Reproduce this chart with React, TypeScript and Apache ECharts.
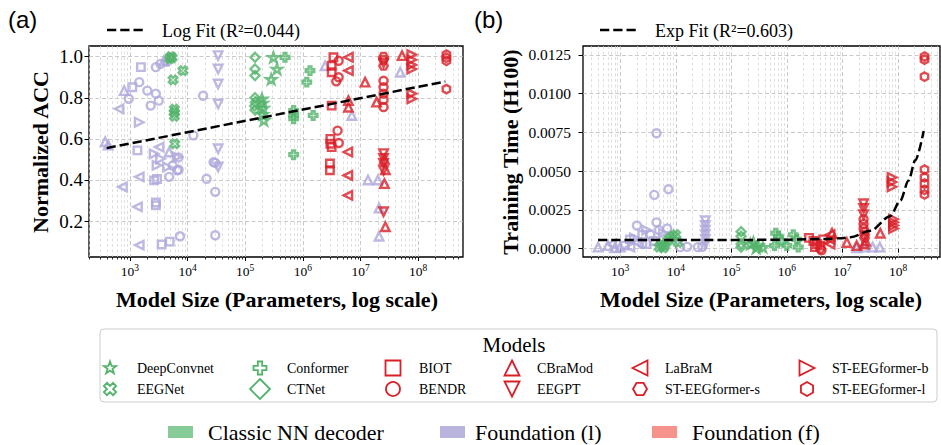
import React, { useEffect, useRef } from "react";
import * as echarts from "echarts";

type Pt = [number, number, string];

// ---------- data ----------
const sizeTicks = [1e3, 1e4, 1e5, 1e6, 1e7, 1e8];
const accTicks = [0.2, 0.4, 0.6, 0.8, 1.0];
const timeTicks = [0, 0.0025, 0.005, 0.0075, 0.01, 0.0125];

const modelNames = [
  "DeepConvnet", "EEGNet", "Conformer", "CTNet", "BIOT", "BENDR",
  "CBraMod", "EEGPT", "LaBraM", "ST-EEGformer-s", "ST-EEGformer-b", "ST-EEGformer-l",
];
const groupNames = ["Classic NN decoder", "Foundation (l)", "Foundation (f)"];

// Normalized accuracy vs. parameter count
const classicAcc: Pt[] = [
  [5100, 1.0, "EEGNet"], [5400, 0.995, "EEGNet"], [4900, 0.99, "EEGNet"], [8300, 0.932, "EEGNet"],
  [5600, 0.887, "EEGNet"], [5900, 0.745, "EEGNet"], [5900, 0.728, "EEGNet"], [5900, 0.71, "EEGNet"],
  [6000, 0.576, "EEGNet"],
  [148000, 0.997, "CTNet"], [148000, 0.94, "CTNet"], [148000, 0.908, "CTNet"], [148000, 0.8, "CTNet"],
  [150000, 0.778, "CTNet"], [146000, 0.76, "CTNet"], [148000, 0.74, "CTNet"],
  [309000, 0.997, "DeepConvnet"], [355000, 0.94, "DeepConvnet"], [282000, 0.89, "DeepConvnet"],
  [195000, 0.795, "DeepConvnet"], [200000, 0.775, "DeepConvnet"], [205000, 0.75, "DeepConvnet"],
  [200000, 0.72, "DeepConvnet"], [210000, 0.69, "DeepConvnet"],
  [490000, 0.997, "Conformer"], [1330000, 0.932, "Conformer"], [1170000, 0.876, "Conformer"],
  [692000, 0.738, "Conformer"], [692000, 0.715, "Conformer"], [692000, 0.698, "Conformer"],
  [1510000, 0.714, "Conformer"], [692000, 0.523, "Conformer"],
];

const linearAcc: Pt[] = [
  [1550, 0.949, "BIOT"], [1100, 0.851, "BIOT"], [1350, 0.544, "BIOT"], [2630, 0.398, "BIOT"],
  [2950, 0.405, "BIOT"], [2820, 0.277, "BIOT"], [2820, 0.29, "BIOT"], [3550, 0.086, "BIOT"], [4900, 0.1, "BIOT"],
  [2820, 0.949, "BENDR"], [3390, 0.965, "BENDR"], [1450, 0.876, "BENDR"], [2000, 0.835, "BENDR"],
  [2820, 0.82, "BENDR"], [3160, 0.786, "BENDR"], [2290, 0.762, "BENDR"], [955, 0.795, "BENDR"],
  [18600, 0.81, "BENDR"], [12600, 0.617, "BENDR"], [28200, 0.487, "BENDR"], [21400, 0.406, "BENDR"],
  [30200, 0.342, "BENDR"], [30200, 0.131, "BENDR"], [30200, 0.483, "BENDR"], [7000, 0.51, "BENDR"],
  [7000, 0.45, "BENDR"], [6600, 0.447, "BENDR"], [4800, 0.415, "BENDR"], [7400, 0.126, "BENDR"],
  [5500, 0.47, "BENDR"],
  [372, 0.586, "CBraMod"], [420, 0.57, "CBraMod"], [794, 0.835, "CBraMod"], [4800, 0.536, "CBraMod"],
  [2.43e6, 0.956, "CBraMod"], [7.08e6, 0.714, "CBraMod"], [1.35e7, 0.4, "CBraMod"], [2.0e7, 0.4, "CBraMod"],
  [2.1e7, 0.263, "CBraMod"], [2.1e7, 0.126, "CBraMod"], [4.9e7, 0.924, "CBraMod"], [3900, 0.98, "CBraMod"],
  [33900, 1.005, "EEGPT"], [33900, 0.94, "EEGPT"], [33900, 0.867, "EEGPT"], [33900, 0.77, "EEGPT"],
  [33900, 0.552, "EEGPT"], [33900, 0.463, "EEGPT"],
  [646, 0.746, "LaBraM"], [1450, 0.415, "LaBraM"], [741, 0.366, "LaBraM"], [1350, 0.269, "LaBraM"],
  [1450, 0.083, "LaBraM"], [3200, 0.56, "LaBraM"],
  [1450, 0.681, "ST-EEGformer-b"], [3390, 0.503, "ST-EEGformer-b"], [2630, 0.527, "ST-EEGformer-b"],
  [2950, 0.471, "ST-EEGformer-b"], [4470, 0.463, "ST-EEGformer-b"], [6600, 0.512, "ST-EEGformer-b"],
  [4300, 0.975, "ST-EEGformer-s"],
];

const fineAcc: Pt[] = [
  [3.39e6, 0.997, "BIOT"], [3.16e6, 0.956, "BIOT"], [3.16e6, 0.924, "BIOT"], [3.16e6, 0.762, "BIOT"],
  [3.0e6, 0.6, "BIOT"], [3.0e6, 0.576, "BIOT"], [2.95e6, 0.48, "BIOT"], [2.95e6, 0.447, "BIOT"], [3.16e6, 0.56, "BIOT"],
  [4.17e6, 0.98, "BENDR"], [4.17e6, 0.9, "BENDR"], [3.8e6, 0.88, "BENDR"], [4.0e6, 0.64, "BENDR"],
  [4.2e6, 0.58, "BENDR"], [2.51e7, 0.883, "BENDR"], [2.51e7, 0.851, "BENDR"], [2.51e7, 0.82, "BENDR"],
  [2.51e7, 0.79, "BENDR"], [2.51e7, 0.755, "BENDR"],
  [1.2e7, 0.876, "CBraMod"], [1.9e7, 0.779, "CBraMod"], [5.25e7, 1.005, "CBraMod"], [2.6e7, 0.5, "CBraMod"],
  [2.7e7, 0.45, "CBraMod"], [2.6e7, 0.382, "CBraMod"], [2.7e7, 0.172, "CBraMod"], [6.17e6, 0.786, "CBraMod"],
  [6.17e6, 0.754, "CBraMod"],
  [2.51e7, 0.528, "EEGPT"], [2.51e7, 0.505, "EEGPT"], [2.51e7, 0.48, "EEGPT"], [2.51e7, 0.447, "EEGPT"],
  [2.51e7, 0.245, "EEGPT"], [2.51e7, 0.97, "EEGPT"],
  [6.17e6, 0.997, "LaBraM"], [6.17e6, 0.932, "LaBraM"], [6.03e6, 0.536, "LaBraM"], [6.03e6, 0.422, "LaBraM"],
  [6.03e6, 0.325, "LaBraM"],
  [7.76e7, 1.01, "ST-EEGformer-b"], [7.76e7, 0.985, "ST-EEGformer-b"], [7.76e7, 0.96, "ST-EEGformer-b"],
  [7.76e7, 0.94, "ST-EEGformer-b"], [7.76e7, 0.82, "ST-EEGformer-b"], [7.76e7, 0.795, "ST-EEGformer-b"],
  [2.51e7, 1.0, "ST-EEGformer-s"], [2.51e7, 0.985, "ST-EEGformer-s"], [2.51e7, 0.955, "ST-EEGformer-s"],
  [3.09e8, 1.01, "ST-EEGformer-l"], [3.09e8, 0.995, "ST-EEGformer-l"], [3.09e8, 0.98, "ST-EEGformer-l"],
  [3.09e8, 0.842, "ST-EEGformer-l"],
];

// Training time (H100) vs. parameter count
const classicTime: Pt[] = [
  [5000, 0.0001, "EEGNet"], [5600, 0.0003, "EEGNet"], [6300, 0.0002, "EEGNet"], [7100, 0.0005, "EEGNet"],
  [8000, 0.0007, "EEGNet"], [9000, 0.0008, "EEGNet"], [10000, 0.0009, "EEGNet"], [11000, 0.0004, "EEGNet"],
  [6000, 0.00005, "EEGNet"],
  [150000, 0.0011, "CTNet"], [150000, 0.0008, "CTNet"], [150000, 0.0003, "CTNet"], [150000, 0.0001, "CTNet"],
  [250000, 0.0004, "DeepConvnet"], [300000, 0.0002, "DeepConvnet"], [370000, 0.0001, "DeepConvnet"],
  [280000, 0.00005, "DeepConvnet"], [220000, 0.0003, "DeepConvnet"],
  [630000, 0.001, "Conformer"], [700000, 0.0008, "Conformer"], [800000, 0.0005, "Conformer"],
  [1.3e6, 0.0009, "Conformer"], [1.5e6, 0.0006, "Conformer"], [1.0e6, 0.0002, "Conformer"],
  [1.6e6, 0.0001, "Conformer"], [600000, 0.0002, "Conformer"],
];

const linearTime: Pt[] = [
  [4500, 0.00745, "BENDR"], [4100, 0.00347, "BENDR"], [7400, 0.00384, "BENDR"], [2000, 0.0015, "BENDR"],
  [4500, 0.0017, "BENDR"], [7000, 0.0013, "BENDR"], [5000, 0.0012, "BENDR"], [3500, 0.0009, "BENDR"],
  [12000, 0.0001, "BENDR"], [16000, 0.00012, "BENDR"], [25000, 0.0001, "BENDR"], [30000, 0.00012, "BENDR"],
  [2500, 0.0003, "BENDR"],
  [1500, 0.0006, "BIOT"], [2500, 0.0009, "BIOT"], [3000, 0.0003, "BIOT"], [4000, 0.0005, "BIOT"], [1200, 0.0002, "BIOT"],
  [400, 0.0001, "CBraMod"], [600, 0.0002, "CBraMod"], [800, 0.00005, "CBraMod"], [1000, 0.0001, "CBraMod"],
  [1.8e7, 0.00005, "CBraMod"], [2.5e7, 0.0001, "CBraMod"], [3.5e7, 0.0001, "CBraMod"], [4.7e7, 0.0001, "CBraMod"],
  [34000, 0.0018, "EEGPT"], [34000, 0.0015, "EEGPT"], [34000, 0.0012, "EEGPT"], [34000, 0.0009, "EEGPT"],
  [34000, 0.0006, "EEGPT"], [34000, 0.0003, "EEGPT"],
  [700, 0.0003, "LaBraM"], [1500, 0.0001, "LaBraM"], [2000, 0.0004, "LaBraM"],
  [3000, 0.0012, "ST-EEGformer-b"], [6000, 0.001, "ST-EEGformer-b"], [1800, 0.0007, "ST-EEGformer-b"],
];

const fineTime: Pt[] = [
  [2.5e6, 0.0007, "BIOT"], [3e6, 0.0005, "BIOT"], [3.5e6, 0.0003, "BIOT"], [4e6, 0.0002, "BIOT"],
  [4.5e6, 0.0006, "BIOT"], [3.2e6, 0.0001, "BIOT"],
  [4e6, 0.0, "BENDR"], [4.2e6, -0.0001, "BENDR"], [2.4e7, 0.0019, "BENDR"], [2.4e7, 0.0016, "BENDR"],
  [2.4e7, 0.0013, "BENDR"],
  [6e6, 0.0009, "LaBraM"], [6e6, 0.0006, "LaBraM"], [6e6, 0.0003, "LaBraM"],
  [6.5e6, 0.001, "CBraMod"], [1.2e7, 0.0004, "CBraMod"], [4.8e7, 0.001, "CBraMod"], [1.8e7, 0.0002, "CBraMod"],
  [2.6e7, 0.0005, "CBraMod"], [2.5e7, 0.0003, "CBraMod"],
  [2.4e7, 0.0029, "EEGPT"], [2.4e7, 0.0026, "EEGPT"], [2.4e7, 0.0022, "EEGPT"],
  [2.5e7, 0.0011, "ST-EEGformer-s"], [2.5e7, 0.0009, "ST-EEGformer-s"], [2.5e7, 0.0007, "ST-EEGformer-s"],
  [7.8e7, 0.0046, "ST-EEGformer-b"], [7.8e7, 0.0043, "ST-EEGformer-b"], [7.8e7, 0.004, "ST-EEGformer-b"],
  [8.3e7, 0.0019, "ST-EEGformer-b"], [8.3e7, 0.0017, "ST-EEGformer-b"], [8.3e7, 0.0015, "ST-EEGformer-b"],
  [8.3e7, 0.0013, "ST-EEGformer-b"],
  [3.0e8, 0.0124, "ST-EEGformer-l"], [3.0e8, 0.0122, "ST-EEGformer-l"], [3.0e8, 0.0111, "ST-EEGformer-l"],
  [3.0e8, 0.0051, "ST-EEGformer-l"], [3.0e8, 0.0046, "ST-EEGformer-l"], [3.0e8, 0.0042, "ST-EEGformer-l"],
  [3.0e8, 0.0038, "ST-EEGformer-l"], [3.0e8, 0.0035, "ST-EEGformer-l"],
];

// Fitted curves
const logFit: [number, number][] = [[394, 0.555], [2.95e8, 0.879]];
const expFit: [number, number][] = [
  [400, 0.00056], [1e5, 0.00056], [1e6, 0.00058], [5e6, 0.00063], [1e7, 0.00068], [1.4e7, 0.00074],
  [3.2e7, 0.00116], [7.2e7, 0.0021], [1.1e8, 0.0031], [1.55e8, 0.0044], [2.04e8, 0.0057], [2.9e8, 0.0076],
];

// ---------- styling ----------
const SERIF = "Liberation Serif";
const SANS = "Liberation Sans";
const GREEN = "#52b36a";
const PURPLE = "#aca7db";
const RED = "#da1e27";
const PATCH = ["#86cb98", "#b8b4de", "#f4928b"];

const SHAPE: Record<string, string> = {
  DeepConvnet: "star", EEGNet: "cross", Conformer: "plus", CTNet: "diamond",
  BIOT: "square", BENDR: "circle", CBraMod: "triUp", EEGPT: "triDown",
  LaBraM: "triLeft", "ST-EEGformer-s": "hexFlat", "ST-EEGformer-b": "triRight", "ST-EEGformer-l": "hexPointy",
};
const PLOT_SIZE: Record<string, number> = {
  star: 10, cross: 8.5, plus: 8.5, diamond: 9, square: 7.5, circle: 8,
  triUp: 8.5, triDown: 8.5, triLeft: 8.5, triRight: 8.5, hexFlat: 8.5, hexPointy: 8.5,
};
const LEGEND_HALF: Record<string, number> = {
  star: 6.5, cross: 6.5, plus: 6.5, diamond: 10, square: 7.5, circle: 7,
  triUp: 7.5, triDown: 7.5, triLeft: 7.5, triRight: 7.5, hexFlat: 7, hexPointy: 7,
};

function ring(n: number, startDeg: number, radii: number[]): number[][] {
  return Array.from({ length: n }, (_, k) => {
    const a = ((startDeg + (k * 360) / n) * Math.PI) / 180;
    const r = radii[k % radii.length];
    return [r * Math.cos(a), r * Math.sin(a)];
  });
}

function unitPolygon(shape: string): number[][] {
  const w = 1 / 3;
  const plus = [[-w, -1], [w, -1], [w, -w], [1, -w], [1, w], [w, w], [w, 1], [-w, 1], [-w, w], [-1, w], [-1, -w], [-w, -w]];
  switch (shape) {
    case "star": return ring(10, -90, [1, 0.4]);
    case "plus": return plus;
    case "cross": {
      const c = Math.SQRT1_2;
      return plus.map(([x, y]) => [(x - y) * c, (x + y) * c]);
    }
    case "diamond": return [[0, -1], [1, 0], [0, 1], [-1, 0]];
    case "square": return [[-1, -1], [1, -1], [1, 1], [-1, 1]];
    case "triUp": return [[0, -1], [1, 1], [-1, 1]];
    case "triDown": return [[0, 1], [1, -1], [-1, -1]];
    case "triLeft": return [[-1, 0], [1, -1], [1, 1]];
    case "triRight": return [[1, 0], [-1, -1], [-1, 1]];
    case "hexPointy": return ring(6, -90, [1]);
    case "hexFlat": return ring(6, 0, [1]);
    default: return [];
  }
}

function symbolPath(shape: string): string {
  if (shape === "circle") return "path://M20,10A10,10,0,1,1,0,10A10,10,0,1,1,20,10Z";
  const pts = unitPolygon(shape).map(([x, y]) => `${(x * 10 + 10).toFixed(3)},${(y * 10 + 10).toFixed(3)}`);
  return `path://M${pts.join("L")}Z`;
}

function minorValues(min: number, max: number): number[] {
  const out: number[] = [];
  for (let e = Math.floor(Math.log10(min)); e <= Math.ceil(Math.log10(max)); e++) {
    for (let m = 2; m <= 9; m++) {
      const v = m * Math.pow(10, e);
      if (v > min && v < max) out.push(v);
    }
  }
  return out;
}

const tickLine = { color: "#000", width: 1 };
const majorGrid = { show: true, lineStyle: { color: "#bdbdbd", width: 0.8, type: [4, 2.5] as number[] } };
const minorGrid = { show: true, lineStyle: { color: "#d2d2d2", width: 0.7, type: [3, 2.5] as number[] } };

function majorX(gridIndex: number, min: number, max: number) {
  return {
    type: "log", logBase: 10, gridIndex, min, max, position: "bottom",
    axisLine: { show: false },
    axisTick: { show: true, customValues: sizeTicks, length: 4, lineStyle: tickLine },
    axisLabel: {
      show: true, customValues: sizeTicks, margin: 6,
      formatter: (v: number) => `{b|10}{s|${Math.round(Math.log10(v))}}`,
      rich: {
        b: { fontFamily: SERIF, fontSize: 13.5, color: "#000" },
        s: { fontFamily: SERIF, fontSize: 9.5, color: "#000", padding: [0, 0, 7, 0] },
      },
    },
    splitLine: majorGrid,
  };
}

function minorX(gridIndex: number, min: number, max: number) {
  return {
    type: "log", logBase: 10, gridIndex, min, max, position: "bottom",
    axisLine: { show: false },
    axisLabel: { show: false },
    axisTick: { show: true, customValues: minorValues(min, max), length: 2.5, lineStyle: { color: "#000", width: 0.8 } },
    splitLine: minorGrid,
  };
}

function scatter(points: Pt[], color: string, xi: number, yi: number, opacity: number) {
  return {
    type: "scatter", xAxisIndex: xi, yAxisIndex: yi, silent: true, z: 3,
    symbolKeepAspect: true,
    data: points.map(([x, y, m]) => ({
      value: [x, y],
      symbol: symbolPath(SHAPE[m]),
      symbolSize: PLOT_SIZE[SHAPE[m]],
    })),
    itemStyle: { color: "rgba(255,255,255,0)", borderColor: color, borderWidth: 2.4, opacity },
    emphasis: { disabled: true },
  };
}

function fitLine(points: [number, number][], xi: number, yi: number, smooth: boolean) {
  return {
    type: "line", xAxisIndex: xi, yAxisIndex: yi, data: points, silent: true, z: 6,
    symbol: "none", showSymbol: false, smooth: smooth ? 0.3 : false, smoothMonotone: "x",
    lineStyle: { color: "#000", width: 2.5, type: [9.25, 4] },
  };
}

function txt(x: number, y: number, text: string, size: number, opts: { family?: string; bold?: boolean; align?: string; rotation?: number } = {}) {
  const align = opts.align || "left";
  return {
    type: "text", x, y, rotation: opts.rotation || 0, silent: true,
    style: {
      x: 0, y: 0, text,
      fontFamily: opts.family || SERIF, fontSize: size, fontWeight: opts.bold ? "bold" : "normal",
      fill: "#000", textAlign: align, align, textVerticalAlign: "middle", verticalAlign: "middle",
    },
  };
}

function legendMarker(shape: string, cx: number, cy: number, color: string) {
  const r = LEGEND_HALF[shape];
  const style = { fill: "none", stroke: color, lineWidth: 1.8 };
  if (shape === "circle") return { type: "circle", silent: true, shape: { cx, cy, r }, style };
  return {
    type: "polygon", silent: true,
    shape: { points: unitPolygon(shape).map(([x, y]) => [cx + x * r, cy + y * r]) },
    style,
  };
}

function buildOption() {
  const colX = [110, 260, 393, 512, 640, 807];
  const colText = [137, 287, 419, 537, 665, 832];
  const rowY = [368, 389];
  const classicSet = new Set(["DeepConvnet", "EEGNet", "Conformer", "CTNet"]);

  const legendItems: any[] = [];
  modelNames.forEach((m, i) => {
    const col = Math.floor(i / 2);
    const row = i % 2;
    legendItems.push(legendMarker(SHAPE[m], colX[col], rowY[row], classicSet.has(m) ? GREEN : RED));
    legendItems.push(txt(colText[col], rowY[row], m, 14));
  });

  const patchX = [168, 440, 652];
  const patchText = [208, 475, 692];
  groupNames.forEach((g, i) => {
    legendItems.push({ type: "rect", silent: true, shape: { x: patchX[i], y: 426, width: 25, height: 12 }, style: { fill: PATCH[i] } });
    legendItems.push(txt(patchText[i], 432, g, 22));
  });

  const dash = { stroke: "#000", lineWidth: 2.5, lineDash: [9.25, 4] };
  const graphic: any[] = [
    txt(8, 19, "(a)", 24, { family: SANS }),
    txt(474, 19, "(b)", 24, { family: SANS }),
    { type: "line", silent: true, shape: { x1: 107, y1: 30, x2: 146, y2: 30 }, style: dash },
    txt(162, 31, "Log Fit (R\u00b2=0.044)", 18),
    { type: "line", silent: true, shape: { x1: 600, y1: 30, x2: 637, y2: 30 }, style: dash },
    txt(655, 31, "Exp Fit (R\u00b2=0.603)", 18),
    txt(40, 152, "Normalized ACC", 22, { bold: true, align: "center", rotation: Math.PI / 2 }),
    txt(510, 152, "Training Time (H100)", 22, { bold: true, align: "center", rotation: Math.PI / 2 }),
    txt(277, 299, "Model Size (Parameters, log scale)", 22, { bold: true, align: "center" }),
    txt(761, 299, "Model Size (Parameters, log scale)", 22, { bold: true, align: "center" }),
    { type: "rect", silent: true, shape: { x: 100, y: 329, width: 837, height: 73, r: 4 }, style: { fill: "#fff", stroke: "#cccccc", lineWidth: 1 } },
    txt(514, 345, "Models", 21, { align: "center" }),
    ...legendItems,
  ];

  const gridBase = { show: true, borderColor: "#000", borderWidth: 1.3, backgroundColor: "rgba(0,0,0,0)", containLabel: false };

  return {
    animation: false,
    backgroundColor: "#fff",
    grid: [
      { ...gridBase, left: 89, top: 46, width: 374, height: 211 },
      { ...gridBase, left: 583, top: 46, width: 357, height: 211 },
    ],
    xAxis: [
      majorX(0, 195, 6.0e8),
      minorX(0, 195, 6.0e8),
      majorX(1, 214, 5.7e8),
      minorX(1, 214, 5.7e8),
    ],
    yAxis: [
      {
        type: "value", gridIndex: 0, min: 0.025, max: 1.052,
        axisLine: { show: false },
        axisTick: { show: true, customValues: accTicks, length: 4.5, lineStyle: tickLine },
        axisLabel: { customValues: accTicks, formatter: (v: number) => v.toFixed(1), fontFamily: SERIF, fontSize: 19, color: "#000", margin: 6 },
        splitLine: majorGrid,
      },
      {
        type: "value", gridIndex: 1, min: -0.000536, max: 0.01308,
        axisLine: { show: false },
        axisTick: { show: true, customValues: timeTicks, length: 4.5, lineStyle: tickLine },
        axisLabel: { customValues: timeTicks, formatter: (v: number) => v.toFixed(4), fontFamily: SERIF, fontSize: 15.5, color: "#000", margin: 12 },
        splitLine: majorGrid,
      },
    ],
    series: [
      scatter(linearAcc, PURPLE, 0, 0, 0.8),
      scatter(classicAcc, GREEN, 0, 0, 0.8),
      scatter(fineAcc, RED, 0, 0, 0.8),
      fitLine(logFit, 0, 0, false),
      scatter(linearTime, PURPLE, 2, 1, 0.8),
      scatter(classicTime, GREEN, 2, 1, 0.8),
      scatter(fineTime, RED, 2, 1, 0.8),
      fitLine(expFit, 2, 1, true),
    ],
    graphic,
  };
}

export default function App() {
  const ref = useRef<HTMLDivElement>(null);
  useEffect(() => {
    document.body.style.margin = "0";
    const chart = echarts.init(ref.current as HTMLDivElement, undefined, { renderer: "svg" });
    chart.setOption(buildOption() as any);
    return () => chart.dispose();
  }, []);
  return <div ref={ref} style={{ width: 941, height: 445 }} />;
}
